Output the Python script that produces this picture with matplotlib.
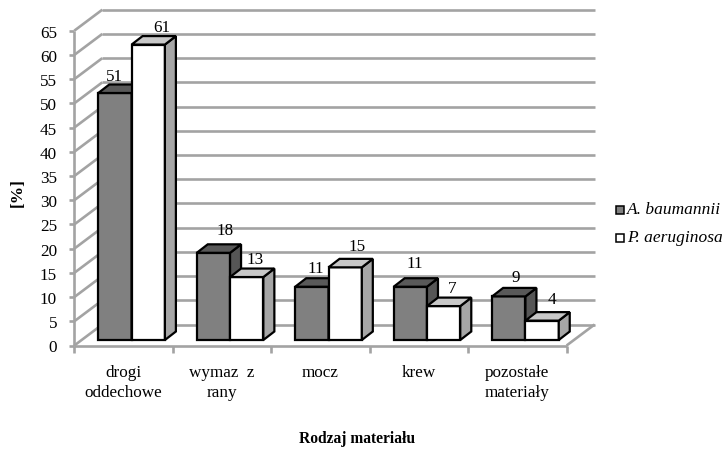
import matplotlib
matplotlib.use("Agg")
import matplotlib.pyplot as plt
from matplotlib.patches import Polygon, Rectangle

plt.rcParams['font.family'] = ['Liberation Serif', 'DejaVu Serif']

categories = ["drogi\noddechowe", "wymaz  z\nrany", "mocz", "krew", "pozostałe\nmateriały"]
series_names = ["A. baumannii", "P. aeruginosa"]
a_baumannii = [51, 18, 11, 11, 9]
p_aeruginosa = [61, 13, 15, 7, 4]
y_ticks = list(range(0, 70, 5))

W, H = 724, 452
fig = plt.figure(figsize=(W / 100, H / 100), dpi=100, facecolor="white")
x0, x1, ytop, ybot = 74.3, 566.6, 31.7, 346.5
ax = fig.add_axes([x0 / W, 1 - ybot / H, (x1 - x0) / W, (ybot - ytop) / H])
ax.set_xlim(0, len(categories))
ax.set_ylim(0, 65)
ax.axis("off")

px = 1 / 98.46           # x data units per pixel
py = 65 / (ybot - ytop)  # y data units per pixel
DX, DY = 28 * px, 21 * py      # wall depth
dx, dy = 11 * px, 8.5 * py     # bar depth
base = 5.5 * py
bw = 33.3 * px
gstart = 24 * px
WALL = "#a3a3a3"
lw_wall = 1.9


def line(xs, ys, c=WALL, lw=lw_wall, z=1):
    ax.plot(xs, ys, color=c, lw=lw, clip_on=False, zorder=z, solid_capstyle="butt")


# walls
for v in y_ticks:
    line([DX, 5 + DX], [v + DY, v + DY])
    line([0, DX], [v, v + DY])
    line([-5 * px, 0], [v, v])
line([0, 0], [0, 65])
line([0, 5], [0, 0])
line([5, 5 + DX], [0, DY])
for i in range(len(categories) + 1):
    line([i, i], [0, -7 * py])


def bar3d(x, v, front, top, side, z):
    ek = dict(edgecolor="black", linewidth=1.6, clip_on=False, zorder=z, joinstyle="miter")
    yb = base
    yt = base + v
    ax.bar([x], [v], bottom=[yb], width=bw, align="edge", color=front, **ek)
    ax.add_patch(Polygon([(x + bw, yb), (x + bw + dx, yb + dy), (x + bw + dx, yt + dy), (x + bw, yt)],
                         facecolor=side, **ek))
    ax.add_patch(Polygon([(x, yt), (x + dx, yt + dy), (x + bw + dx, yt + dy), (x + bw, yt)],
                         facecolor=top, **ek))


nudge_a = [(0, 1), (12, 6), (4, 2), (5, 7), (7, 3)]
nudge_b = [(14, 1), (8, 2), (12, 5), (9, 2), (10, 5)]
for i in range(len(categories)):
    xa = i + gstart
    xb = xa + bw
    bar3d(xa, a_baumannii[i], "#808080", "#595959", "#565656", 3 + i)
    bar3d(xb, p_aeruginosa[i], "#ffffff", "#c8c8c8", "#a6a6a6", 3.5 + i)
    for x, v, n in ((xa, a_baumannii[i], nudge_a[i]), (xb, p_aeruginosa[i], nudge_b[i])):
        ax.annotate(str(v), (x + bw / 2, base + v + dy), xytext=(n[0] * 0.72, n[1] * 0.72),
                    textcoords="offset points", ha="center", va="bottom", fontsize=12.3,
                    zorder=20, annotation_clip=False)
    ax.annotate(categories[i], (i + 0.5, 0), xytext=(0, -13), textcoords="offset points",
                ha="center", va="top", fontsize=12.3, linespacing=1.33, annotation_clip=False)

for v in y_ticks:
    ax.annotate(str(v), (0, v), xytext=(-12.5, 0), textcoords="offset points", ha="right",
                va="center_baseline", fontsize=12.3, annotation_clip=False)

fig.text(18 / W, 1 - 193 / H, "[%]", rotation=90, ha="center", va="center",
         fontsize=12.5, fontweight="bold")
fig.text(357 / W, 1 - 439 / H, "Rodzaj materiału", ha="center", va="center",
         fontsize=11.2, fontweight="bold")

# legend
colors = ["#808080", "#ffffff"]
for name, c, y in zip(series_names, colors, [210.5, 238.5]):
    fig.add_artist(Rectangle((615.5 / W, 1 - (y + 4) / H), 8 / W, 8 / H, facecolor=c,
                             edgecolor="black", linewidth=1.1, transform=fig.transFigure))
    fig.text(627 / W, 1 - y / H, name, ha="left", va="center", fontsize=12.5, style="italic")

fig.savefig("out.png", dpi=100)
